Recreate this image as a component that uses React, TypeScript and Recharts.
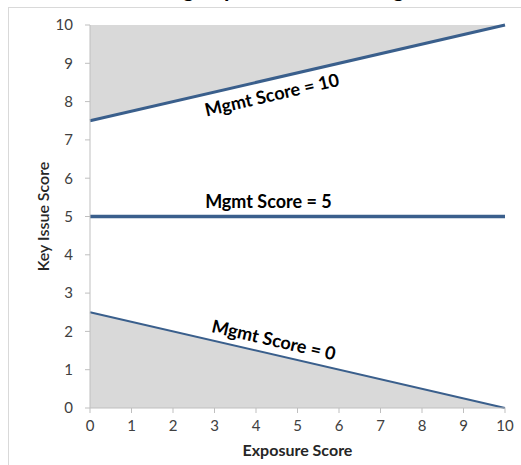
import React from 'react';
import { ComposedChart, Area, Line, XAxis, YAxis, Label, ReferenceDot } from 'recharts';

// exposure score at the two ends of each line
const exposure = [0, 10];
const mgmt10 = [7.5, 10];
const mgmt5 = [5, 5];
const mgmt0 = [2.5, 0];

const xTicks = [0, 1, 2, 3, 4, 5, 6, 7, 8, 9, 10];
const yTicks = [0, 1, 2, 3, 4, 5, 6, 7, 8, 9, 10];

// where each line label sits (exposure, key issue score on the line)
const lineLabels = [
  { text: 'Mgmt Score = 10', x: 4.3, y: 8.575, angle: -13, offset: 15 },
  { text: 'Mgmt Score = 5', x: 4.3, y: 5, angle: 0, offset: -16 },
  { text: 'Mgmt Score = 0', x: 4.35, y: 1.41, angle: 13, offset: -15 },
];

const data = exposure.map((x, i) => ({
  x,
  m10: mgmt10[i],
  m5: mgmt5[i],
  m0: mgmt0[i],
  top: [mgmt10[i], 10],
  bottom: [0, mgmt0[i]],
}));

const FONT = 'Lato, "Open Sans", sans-serif';
const LINE = '#3a5f8c';
const SHADE = '#d9d9d9';
const AXIS = '#bfbfbf';

export default function App() {
  return (
    <div
      style={{
        position: 'absolute',
        left: 0,
        top: 0,
        width: 521,
        height: 465,
        overflow: 'hidden',
        background: '#fff',
        fontFamily: FONT,
      }}
    >
      {/* title is cut off at the top of the picture */}
      <svg width={521} height={8} style={{ position: 'absolute', left: 0, top: 0, display: 'block' }}>
        <text x={89} y={-3} fontSize={22} fontWeight={700} fill="#000" fontFamily={FONT}>
          Combining Exposure and Management Scores
        </text>
      </svg>
      <div
        style={{
          position: 'absolute',
          left: 8,
          top: 7,
          width: 600,
          height: 500,
          borderLeft: '1px solid #d9d9d9',
          borderTop: '1px solid #d9d9d9',
        }}
      />
      <div style={{ position: 'absolute', left: 0, top: 0 }}>
        <ComposedChart width={521} height={465} data={data} margin={{ top: 25, right: 16, left: 30, bottom: 17 }}>
          <XAxis
            type="number"
            dataKey="x"
            domain={[0, 10]}
            ticks={xTicks}
            interval={0}
            stroke={AXIS}
            tickSize={5}
            tickMargin={7}
            height={40}
            tick={{ fill: '#404040', fontSize: 15, fontFamily: FONT }}
          >
            <Label
              value="Exposure Score"
              position="bottom"
              offset={-3}
              style={{ fill: '#262626', fontSize: 16, fontWeight: 700, fontFamily: FONT }}
            />
          </XAxis>
          <YAxis
            type="number"
            domain={[0, 10]}
            ticks={yTicks}
            interval={0}
            stroke={AXIS}
            tickSize={5}
            tickMargin={12}
            width={60}
            tick={{ fill: '#404040', fontSize: 15, fontFamily: FONT }}
          >
            <Label
              content={({ viewBox }: any) => {
                const cx = viewBox.x + 12;
                const cy = viewBox.y + viewBox.height / 2;
                return (
                  <text
                    x={cx}
                    y={cy}
                    transform={`rotate(-90 ${cx} ${cy})`}
                    textAnchor="middle"
                    dominantBaseline="central"
                    fill="#262626"
                    fontSize={16}
                    fontWeight={600}
                    fontFamily={FONT}
                  >
                    Key Issue Score
                  </text>
                );
              }}
            />
          </YAxis>
          <Area dataKey="top" type="linear" fill={SHADE} fillOpacity={1} stroke="none" isAnimationActive={false} />
          <Area dataKey="bottom" type="linear" fill={SHADE} fillOpacity={1} stroke="none" isAnimationActive={false} />
          <Line dataKey="m10" type="linear" stroke={LINE} strokeWidth={3} dot={false} isAnimationActive={false} />
          <Line dataKey="m5" type="linear" stroke={LINE} strokeWidth={3.5} dot={false} isAnimationActive={false} />
          <Line dataKey="m0" type="linear" stroke={LINE} strokeWidth={2} dot={false} isAnimationActive={false} />
          {lineLabels.map((l) => (
            <ReferenceDot
              key={l.text}
              x={l.x}
              y={l.y}
              r={0}
              shape={(p: any) => (
                <g transform={`translate(${p.cx} ${p.cy}) rotate(${l.angle})`}>
                  <text
                    x={0}
                    y={l.offset}
                    textAnchor="middle"
                    dominantBaseline="central"
                    fill="#000"
                    fontSize={18}
                    fontWeight={700}
                    fontFamily={FONT}
                  >
                    {l.text}
                  </text>
                </g>
              )}
            />
          ))}
        </ComposedChart>
      </div>
    </div>
  );
}
